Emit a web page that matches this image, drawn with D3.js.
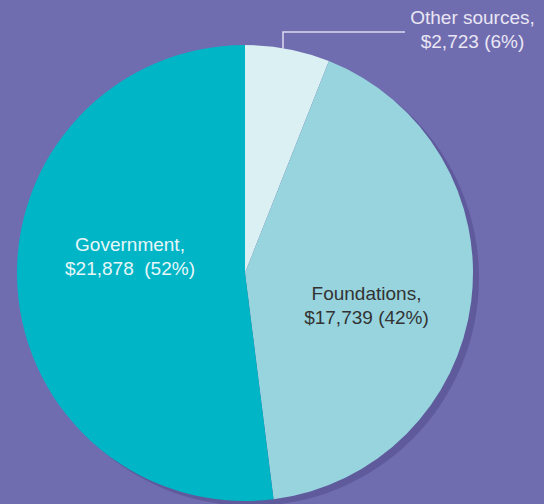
<!DOCTYPE html>
<html>
<head>
<meta charset="utf-8">
<script src="https://cdn.jsdelivr.net/npm/d3@7/dist/d3.min.js"></script>
<style>
  html, body { margin: 0; padding: 0; background: #706cb0; }
  svg { display: block; }
  text { font-family: "Liberation Sans", Arial, Helvetica, sans-serif; }
</style>
</head>
<body>
<svg id="chart" width="544" height="504"></svg>
<script>
const categories = ["Other sources", "Foundations", "Government"];
const amounts = [2723, 17739, 21878];
const percents = [6, 42, 52];
const colors = ["#dbf0f3", "#97d4de", "#00b5c6"];
const textColors = ["#e9e7f4", "#333333", "#e8f7f9"];

const W = 544, H = 504;
const cx = 245, cy = 273, R = 228;

const svg = d3.select("#chart");
svg.append("rect").attr("width", W).attr("height", H).attr("fill", "#706cb0");

const g = svg.append("g").attr("transform", `translate(${cx},${cy})`);

// shadow
g.append("circle").attr("cx", 6).attr("cy", 5).attr("r", R).attr("fill", "#5e5a9c");

const pie = d3.pie().sort(null).value(d => d.p);
const data = categories.map((c, i) => ({ name: c, amount: amounts[i], p: percents[i], i }));
const arcs = pie(data);
const arc = d3.arc().innerRadius(0).outerRadius(R);

g.selectAll("path.slice").data(arcs).enter().append("path")
  .attr("class", "slice")
  .attr("d", arc)
  .attr("fill", d => colors[d.data.i]);

const fmt = d3.format(",");

// label positions relative to pie centre (layout only)
const labelPos = [
  { x: 472.5 - cx, y: 24 - cy },
  { x: 366.5 - cx, y: 300 - cy },
  { x: 130 - cx, y: 251 - cy }
];

arcs.forEach(d => {
  const i = d.data.i;
  const t = g.append("text")
    .attr("text-anchor", "middle")
    .attr("font-size", "19px")
    .attr("fill", textColors[i]);
  t.append("tspan").attr("x", labelPos[i].x).attr("y", labelPos[i].y)
    .text(d.data.name + ",");
  t.append("tspan").attr("x", labelPos[i].x).attr("y", labelPos[i].y + 24)
    .text("$" + fmt(d.data.amount) + (i === 2 ? "\u00a0\u00a0" : " ") + "(" + d.data.p + "%)");
});

// leader line for Other sources
const lx = 283 - cx;
const edgeY = -Math.sqrt(R * R - lx * lx);
g.append("path")
  .attr("d", `M${lx},${edgeY + 1} V${32 - cy} H${405 - cx}`)
  .attr("fill", "none")
  .attr("stroke", "#dcd9ee")
  .attr("stroke-width", 1.5);
</script>
</body>
</html>
